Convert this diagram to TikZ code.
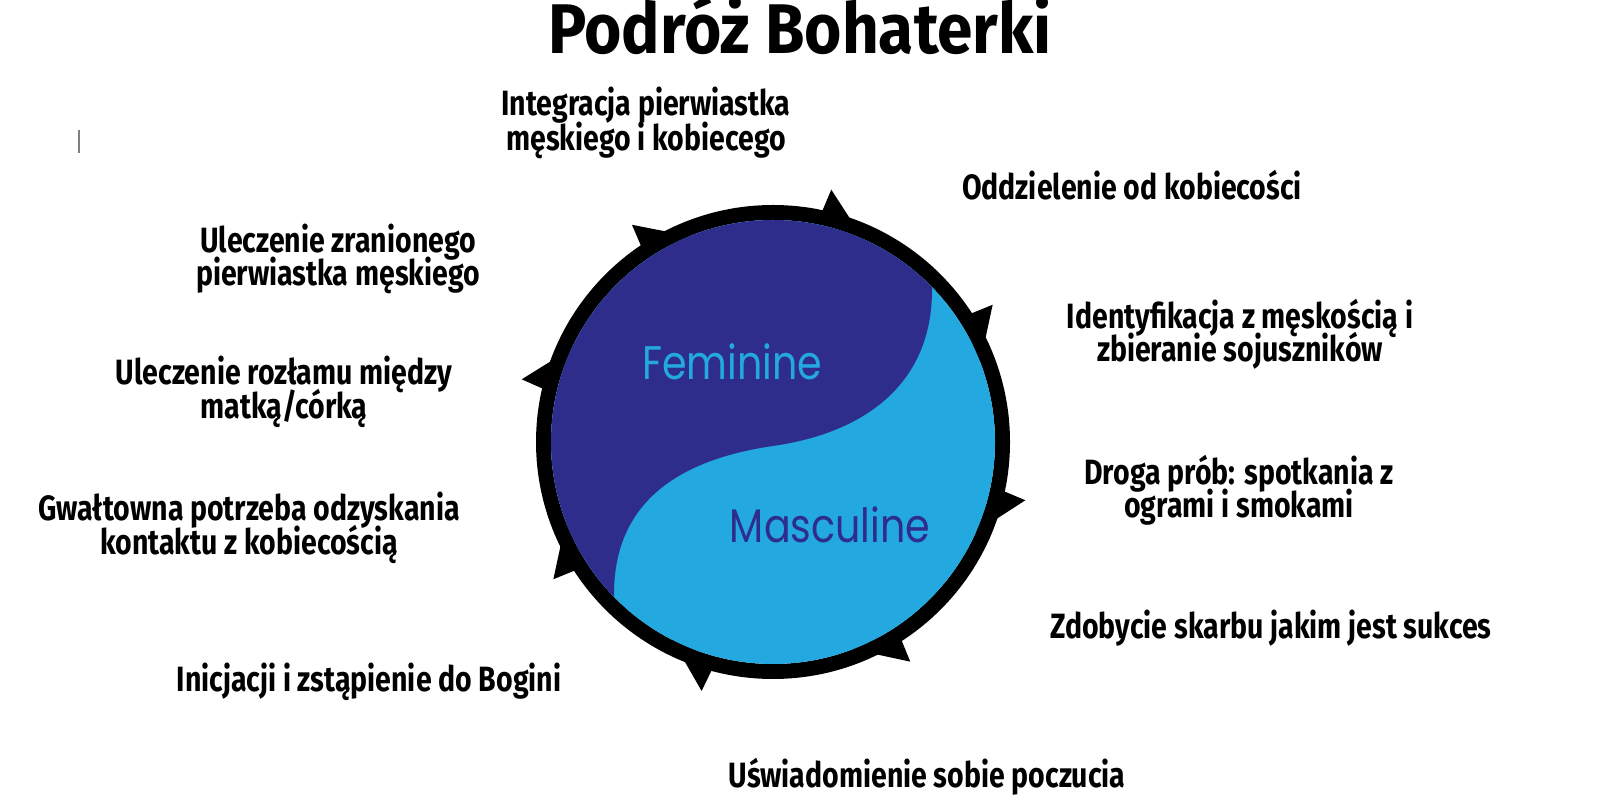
\documentclass[tikz,border=0pt]{standalone}
\usepackage{fontspec}
\setmainfont{Fira Sans}
\newfontfamily\stagefont{Fira Sans}[FakeStretch=0.81]
\newfontfamily\titlefont{Fira Sans}[FakeStretch=0.91]
\newfontfamily\yinfont{Poppins}[FakeStretch=0.84]
\newcommand{\tightlines}{\lineskiplimit=-10pt\relax}
\definecolor{femblue}{HTML}{2E2D8C}
\definecolor{mascblue}{HTML}{23A8E0}

\begin{document}
\begin{tikzpicture}[
    stage/.style={font={\stagefont\bfseries\fontsize{10}{9.5}\selectfont\tightlines}, align=center, inner sep=0pt},
    half/.style={font={\yinfont\fontsize{13.4}{13.4}\selectfont}, inner sep=0pt, anchor=base}
  ]
  \useasboundingbox (0,0) rectangle (16,8);
  \coordinate (o) at (7.73,3.58);

  % ring with barbs
  \draw[line width=0.15cm] (o) circle (2.295);
  \foreach \a in {166,123,77,32,-13,-58,-106,-148}
    \fill[shift={(o)}] (\a:2.59) -- (\a-11:2.22) -- (\a+1.5:2.25) -- cycle;

  % disc
  \fill[mascblue] (o) circle (2.22);
  \begin{scope}
    \clip (o) circle (2.22);
    \fill[femblue] (9.32,5.10) .. controls (9.32,4.2) and (8.7,3.68) .. (7.73,3.54)
      .. controls (6.76,3.40) and (6.14,2.96) .. (6.14,2.06)
      -- (6.14,1.0) -- (5.0,1.0) -- (5.0,6.2) -- (9.32,6.2) -- cycle;
  \end{scope}
  \node[half, text=mascblue] (fem) at (7.32,4.20) {Feminine};
  \node[half, text=femblue] (masc) at (8.30,2.57) {Masculine};

  % title and stages
  \node[inner sep=0pt, anchor=base, font={\titlefont\bfseries\fontsize{20}{20}\selectfont}] (title) at (8.0,7.46) {Podróż Bohaterki};
  \node[stage, font={\stagefont\bfseries\fontsize{10}{10.1}\selectfont\tightlines}] (integracja) at (6.46,6.77) {Integracja pierwiastka\\męskiego i kobiecego};
  \node[stage, anchor=base] (oddzielenie) at (11.32,6.00) {Oddzielenie od kobiecości};
  \node[stage] (identyfikacja) at (12.40,4.66) {Identyfikacja z męskością i\\zbieranie sojuszników};
  \node[stage] (droga) at (12.39,3.10) {Droga prób: spotkania z\\ogrami i smokami};
  \node[stage, anchor=base] (skarb) at (12.71,1.61) {Zdobycie skarbu jakim jest sukces};
  \node[stage, anchor=base] (poczucie) at (9.27,0.13) {Uświadomienie sobie poczucia};
  \node[stage] (zranienie) at (3.38,5.41) {Uleczenie zranionego\\pierwiastka męskiego};
  \node[stage] (rozlam) at (2.84,4.08) {Uleczenie rozłamu między\\matką/córką};
  \node[stage] (kontakt) at (2.49,2.72) {Gwałtowna potrzeba odzyskania\\kontaktu z kobiecością};
  \node[stage, anchor=base] (inicjacja) at (3.69,1.08) {Inicjacji i zstąpienie do Bogini};

  \draw[gray, line width=0.4pt] (0.79,6.70) -- (0.79,6.47);
\end{tikzpicture}
\end{document}
